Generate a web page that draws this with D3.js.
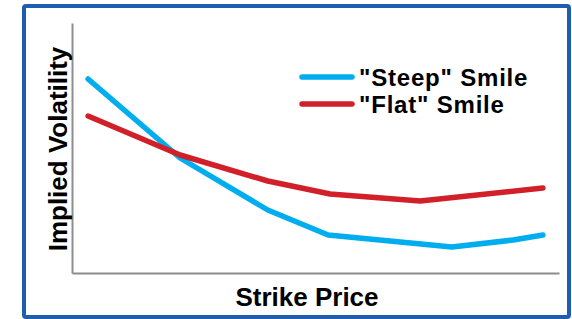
<!DOCTYPE html>
<html>
<head>
<meta charset="utf-8">
<script src="https://cdn.jsdelivr.net/npm/d3@7"></script>
<style>
  body { margin: 0; background: #fff; }
  text { font-family: "Liberation Sans", Arial, sans-serif; font-weight: bold; fill: #000; }
</style>
</head>
<body>
<div class="chart"></div>
<script>
//Data (strike and volatility on a 0-100 relative scale)
var seriesNames = ['"Steep" Smile', '"Flat" Smile'];
var steepStrike = [3.3, 22.2, 40.2, 52.6, 78.0, 90.6, 96.7];
var steepVol = [77.6, 46, 25.2, 15.2, 10.4, 13.2, 15.2];
var flatStrike = [3.3, 22.2, 40.2, 53.0, 71.5, 96.7];
var flatVol = [62.8, 47.2, 36.8, 31.6, 28.8, 34];

//Width and height
var w = 572;
var h = 319;

var svg = d3.select(".chart")
    .append("svg")
    .attr("width", w)
    .attr("height", h);

//Frame
svg.append("rect")
    .attr("x", 24)
    .attr("y", 6)
    .attr("width", 545)
    .attr("height", 311)
    .attr("rx", 2)
    .style("fill", "none")
    .style("stroke", "#1d5fae")
    .style("stroke-width", 4);

//Scales
var xScale = d3.scaleLinear().domain([0, 100]).range([72, 559]);
var yScale = d3.scaleLinear().domain([0, 100]).range([273, 23]);

//Axes without ticks
var xAxis = d3.axisBottom(xScale).ticks(0).tickSizeOuter(0);
var yAxis = d3.axisLeft(yScale).ticks(0).tickSizeOuter(0);

svg.append("g")
    .attr("transform", "translate(0, 273)")
    .call(xAxis);
svg.append("g")
    .attr("transform", "translate(72, 0)")
    .call(yAxis);
svg.selectAll(".domain")
    .style("stroke", "#8c8c8c")
    .style("stroke-width", 2);

//Axis labels
svg.append("text")
    .attr("x", 307)
    .attr("y", 306)
    .attr("text-anchor", "middle")
    .style("font-size", "26px")
    .text("Strike Price");
svg.append("text")
    .attr("transform", "translate(67, 149) rotate(-90)")
    .attr("text-anchor", "middle")
    .style("font-size", "26px")
    .text("Implied Volatility");

//Lines
var series = [
    { name: seriesNames[0], color: "#00aeef", x: steepStrike, y: steepVol },
    { name: seriesNames[1], color: "#d2202a", x: flatStrike, y: flatVol }
];

var line = d3.line()
    .x(d => xScale(d[0]))
    .y(d => yScale(d[1]));

svg.selectAll(".series")
    .data(series)
    .enter()
    .append("path")
    .attr("class", "series")
    .attr("d", s => line(d3.zip(s.x, s.y)))
    .style("fill", "none")
    .style("stroke", s => s.color)
    .style("stroke-width", 5.5)
    .style("stroke-linecap", "round")
    .style("stroke-linejoin", "round");

//Legend
var legend = svg.selectAll(".legend")
    .data(series)
    .enter()
    .append("g")
    .attr("class", "legend")
    .attr("transform", (d, i) => "translate(300, " + (77 + i * 27) + ")");

legend.append("line")
    .attr("x1", 2)
    .attr("x2", 52)
    .style("stroke", d => d.color)
    .style("stroke-width", 5.5)
    .style("stroke-linecap", "round");

legend.append("text")
    .attr("x", 59)
    .attr("y", 8.5)
    .style("font-size", "24px")
    .style("letter-spacing", "0.8px")
    .text(d => d.name);
</script>
</body>
</html>
